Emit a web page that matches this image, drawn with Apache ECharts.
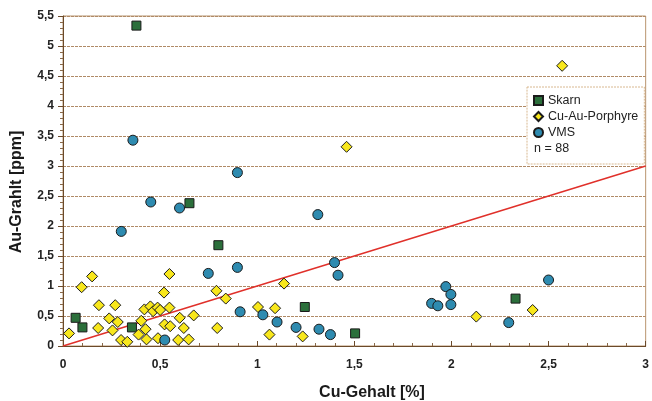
<!DOCTYPE html>
<html>
<head>
<meta charset="utf-8">
<script src="https://cdn.jsdelivr.net/npm/echarts@6/dist/echarts.min.js"></script>
<style>
  html, body { margin: 0; padding: 0; background: #fff; }
  #chart { width: 652px; height: 401px; }
</style>
</head>
<body>
<div id="chart"></div>
<script>
// data: [Cu %, Au ppm]
const skarn = [
  [0.065, 0.47], [0.10, 0.31], [0.355, 0.31], [0.378, 5.34], [0.651, 2.38],
  [0.80, 1.68], [1.245, 0.65], [1.504, 0.21], [2.33, 0.79]
];
const vms = [
  [0.30, 1.91], [0.36, 3.43], [0.452, 2.40], [0.60, 2.30], [0.524, 0.10],
  [0.748, 1.21], [0.898, 2.89], [0.898, 1.31], [0.912, 0.57], [1.029, 0.52],
  [1.102, 0.40], [1.20, 0.31], [1.312, 2.19], [1.318, 0.28], [1.377, 0.19],
  [1.398, 1.39], [1.416, 1.18], [1.898, 0.71], [1.93, 0.67], [1.971, 0.99],
  [1.997, 0.86], [1.997, 0.69], [2.295, 0.39], [2.50, 1.10]
];
const porphyre = [
  [0.031, 0.21], [0.096, 0.98], [0.15, 1.16], [0.185, 0.68], [0.181, 0.30],
  [0.238, 0.46], [0.269, 0.68], [0.255, 0.26], [0.282, 0.40], [0.299, 0.10],
  [0.331, 0.07], [0.389, 0.19], [0.403, 0.42], [0.419, 0.61], [0.425, 0.28],
  [0.43, 0.11], [0.45, 0.66], [0.464, 0.58], [0.487, 0.64], [0.50, 0.60],
  [0.52, 0.89], [0.523, 0.36], [0.489, 0.13], [0.548, 1.20], [0.548, 0.64],
  [0.552, 0.33], [0.593, 0.10], [0.601, 0.47], [0.622, 0.30], [0.647, 0.11],
  [0.673, 0.51], [0.79, 0.92], [0.794, 0.30], [0.838, 0.79], [1.004, 0.65],
  [1.063, 0.19], [1.092, 0.63], [1.138, 1.04], [1.234, 0.16], [1.46, 3.32],
  [2.128, 0.49], [2.418, 0.60], [2.57, 4.67]
];
const trendLine = [[0, 0], [3, 3]];
const seriesNames = ["Skarn", "Cu-Au-Porphyre", "VMS"];
const sampleCount = "n = 88";

const chart = echarts.init(document.getElementById("chart"));

// tick labels use a decimal comma
function comma(v) {
  return String(v).replace(".", ",");
}

const font = "Liberation Sans, Arial, sans-serif";

const options = {
  animation: false,
  textStyle: { fontFamily: font },
  grid: {
    left: 63,
    right: 2,
    top: 16,
    bottom: 55,
    show: true,
    borderColor: "#b9956f",
    borderWidth: 1
  },
  legend: {
    data: seriesNames,
    orient: "vertical",
    left: 527,
    top: 87,
    padding: [7, 6, 25, 6],
    itemGap: 3,
    itemWidth: 9,
    itemHeight: 9,
    backgroundColor: "#fff",
    borderColor: "#d8b890",
    borderWidth: 1,
    borderType: [2, 1],
    textStyle: { fontSize: 12.5, color: "#222" }
  },
  xAxis: {
    type: "value",
    min: 0,
    max: 3,
    interval: 0.5,
    axisLine: { lineStyle: { color: "#6b4a2a", width: 1 } },
    axisTick: { show: true, inside: true, length: 5, lineStyle: { color: "#6b4a2a" } },
    minorTick: { show: true, splitNumber: 5, length: 3, lineStyle: { color: "#8a6a4a" } },
    splitLine: { show: false },
    axisLabel: {
      margin: 13,
      fontSize: 12,
      fontWeight: "bold",
      color: "#222",
      formatter: comma
    }
  },
  yAxis: {
    type: "value",
    min: 0,
    max: 5.5,
    interval: 0.5,
    axisLine: { show: true, lineStyle: { color: "#6b4a2a", width: 1 } },
    axisTick: { show: true, length: 5, lineStyle: { color: "#6b4a2a" } },
    minorTick: { show: true, splitNumber: 5, length: 3, lineStyle: { color: "#8a6a4a" } },
    splitLine: { show: true, lineStyle: { color: "#b08a66", width: 1, type: [3, 1] } },
    axisLabel: {
      margin: 9,
      fontSize: 12,
      fontWeight: "bold",
      color: "#222",
      formatter: comma
    }
  },
  graphic: [
    {
      type: "text",
      x: 534,
      y: 149,
      z: 100,
      style: {
        text: sampleCount,
        fontSize: 12.5,
        fill: "#222",
        verticalAlign: "middle",
        fontFamily: font
      }
    },
    {
      type: "text",
      x: 372,
      y: 393,
      style: {
        text: "Cu-Gehalt [%]",
        fontSize: 16,
        fontWeight: "bold",
        fill: "#1a1a1a",
        align: "center",
        verticalAlign: "middle",
        fontFamily: font
      }
    },
    {
      type: "text",
      x: 17,
      y: 192,
      rotation: Math.PI / 2,
      style: {
        text: "Au-Grahlt [ppm]",
        fontSize: 16,
        fontWeight: "bold",
        fill: "#1a1a1a",
        align: "center",
        verticalAlign: "middle",
        fontFamily: font
      }
    }
  ],
  series: [
    {
      name: "trend",
      type: "line",
      data: trendLine,
      symbol: "none",
      lineStyle: { color: "#e0302a", width: 1.5 },
      z: 1,
      silent: true
    },
    {
      name: "Skarn",
      type: "scatter",
      data: skarn,
      symbol: "rect",
      symbolSize: 9,
      itemStyle: { color: "#2b6f3b", borderColor: "#1a1a1a", borderWidth: 1, opacity: 1 },
      z: 3
    },
    {
      name: "Cu-Au-Porphyre",
      type: "scatter",
      data: porphyre,
      symbol: "diamond",
      symbolSize: 11,
      itemStyle: { color: "#f8e71c", borderColor: "#1a1a1a", borderWidth: 1, opacity: 1 },
      z: 3
    },
    {
      name: "VMS",
      type: "scatter",
      data: vms,
      symbol: "circle",
      symbolSize: 10,
      itemStyle: { color: "#2e8bb0", borderColor: "#1a1a1a", borderWidth: 1, opacity: 1 },
      z: 3
    }
  ]
};

chart.setOption(options);
</script>
</body>
</html>
